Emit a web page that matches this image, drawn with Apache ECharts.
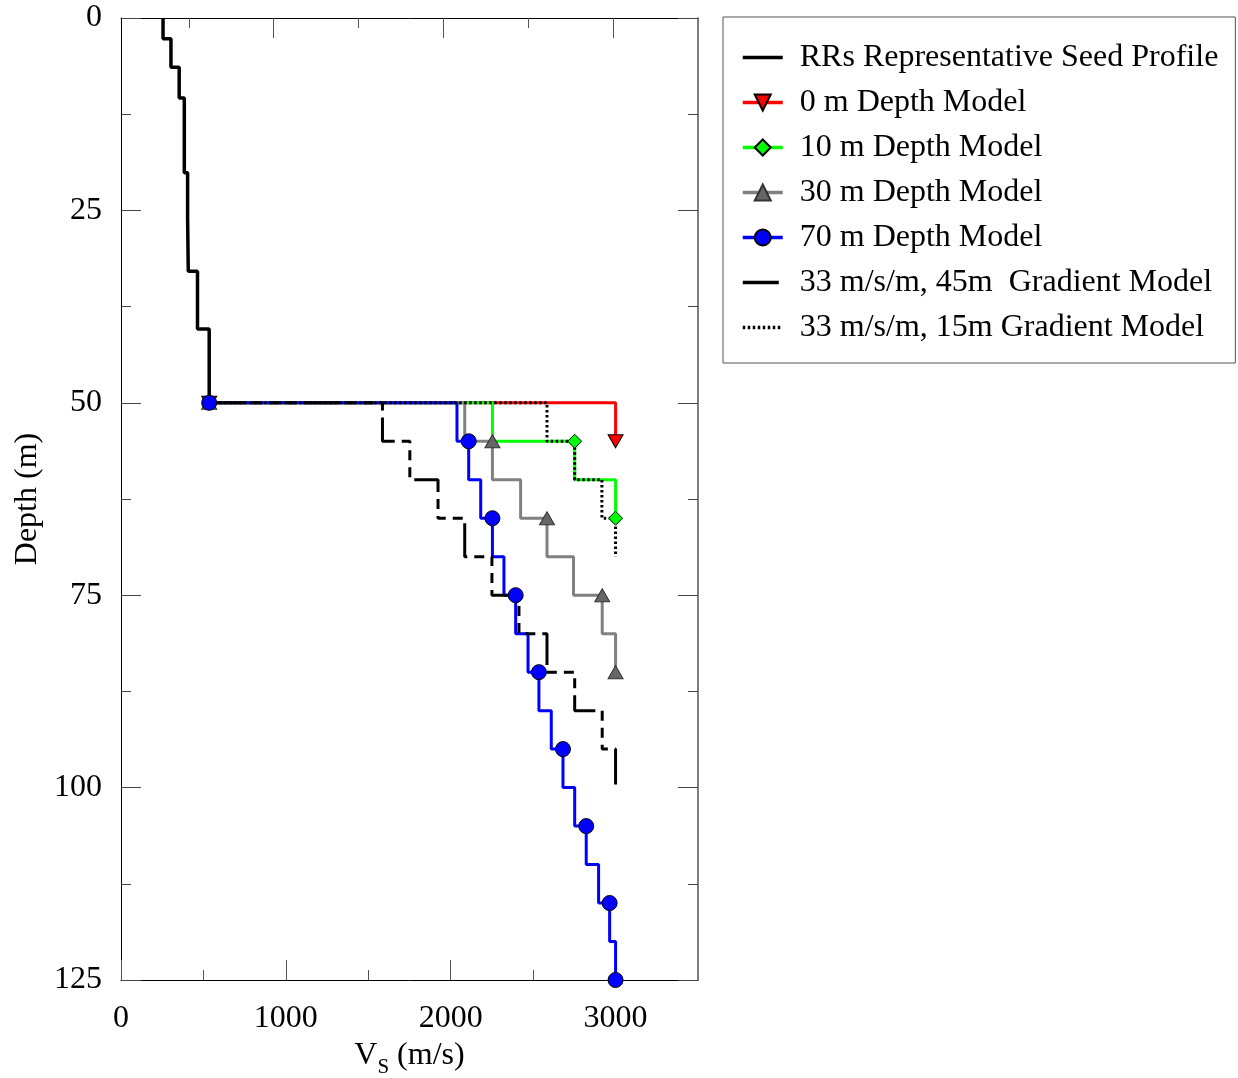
<!DOCTYPE html>
<html>
<head>
<meta charset="utf-8">
<script src="https://cdn.jsdelivr.net/npm/echarts@6/dist/echarts.min.js"></script>
<style>
html,body{margin:0;padding:0;background:#fff;}
#chart{width:1238px;height:1078px;}
</style>
</head>
<body>
<div id="chart"></div>
<script>
// ---------------- data ----------------
const seriesNames = [
  'RRs Representative Seed Profile',
  '0 m Depth Model',
  '10 m Depth Model',
  '30 m Depth Model',
  '70 m Depth Model',
  '33 m/s/m, 45m  Gradient Model',
  '33 m/s/m, 15m Gradient Model'
];

// seed profile: layer boundary depths (m) and Vs (m/s) of each layer
const seedDepths = [0, 2.7, 6.4, 10.4, 20.1, 26.0, 32.9, 40.4, 50];
const seedVs = [255, 303, 353, 384, 404, 408, 464, 535];

// 0 m depth model
const depths0m = [50, 55];
const vs0m = [3000];
const markers0m = [50, 55];

// 10 m depth model
const depths10m = [50, 55, 60, 65];
const vs10m = [2253, 2752, 3000];
const markers10m = [50, 55, 65];

// 30 m depth model
const depths30m = [50, 55, 60, 65, 70, 75, 80, 85];
const vs30m = [2085, 2253, 2424, 2584, 2745, 2919, 3000];
const markers30m = [50, 55, 65, 75, 85];

// 70 m depth model
const depths70m = [50, 55, 60, 65, 70, 75, 80, 85, 90, 95, 100, 105, 110, 115, 120, 125];
const vs70m = [2038, 2109, 2182, 2253, 2323, 2394, 2469, 2535, 2610, 2681, 2752, 2822, 2897, 2964, 3000];
const markers70m = [50, 55, 65, 75, 85, 95, 105, 115, 125];

// 33 m/s/m, 45 m gradient model
const depthsG45 = [50, 55, 60, 65, 70, 75, 80, 85, 90, 95, 100];
const vsG45 = [1586, 1752, 1923, 2085, 2250, 2414, 2584, 2752, 2919, 3000];

// 33 m/s/m, 15 m gradient model
const depthsG15 = [50, 55, 60, 65, 70];
const vsG15 = [2584, 2752, 2917, 3000];

// axis ticks
const xMajorTicks = [0, 1000, 2000, 3000];
const xMinorTicks = [500, 1500, 2500];
const topMajorTicks = [500, 1500, 2500];
const topMinorTicks = [0, 1000, 2000];

// ---------------- build step paths ----------------
function seedPath() {
  const pts = [];
  for (let i = 0; i < seedVs.length; i++) {
    pts.push([seedVs[i], seedDepths[i]]);
    pts.push([seedVs[i], seedDepths[i + 1]]);
  }
  return pts;
}
function modelPath(depths, vs, markers) {
  const mk = (v, d, on) => on ? { value: [v, d] } : { value: [v, d], symbol: 'none' };
  const startV = seedVs[seedVs.length - 1];
  const pts = [mk(startV, depths[0], markers.indexOf(depths[0]) >= 0)];
  for (let i = 0; i < vs.length; i++) {
    pts.push(mk(vs[i], depths[i], i > 0 && markers.indexOf(depths[i]) >= 0));
    pts.push(mk(vs[i], depths[i + 1], i === vs.length - 1 && markers.indexOf(depths[i + 1]) >= 0));
  }
  return pts;
}

const FONT = 'Liberation Serif';
const FS = 32;

const chart = echarts.init(document.getElementById('chart'));

const grid = { left: 121, top: 18, width: 577, height: 962, outerBoundsMode: 'none', containLabel: false };
const noMarker = { opacity: 0, color: 'rgba(0,0,0,0)', borderWidth: 0 };

const option = {
  animation: false,
  backgroundColor: '#fff',
  grid: [Object.assign({}, grid), Object.assign({}, grid)],
  legend: {
    orient: 'vertical',
    left: 723,
    top: 17,
    padding: [24, 17, 19, 18],
    itemGap: 12,
    itemWidth: 40,
    itemHeight: 20,
    borderColor: '#555',
    borderWidth: 1,
    lineStyle: { width: 3.5 },
    textStyle: { fontFamily: FONT, fontSize: FS, lineHeight: 33, color: '#000', padding: [0, 0, 0, 12] },
    data: [
      { name: seriesNames[0], itemStyle: noMarker },
      { name: seriesNames[1] },
      { name: seriesNames[2] },
      { name: seriesNames[3] },
      { name: seriesNames[4] },
      { name: seriesNames[5], itemStyle: noMarker },
      { name: seriesNames[6], itemStyle: noMarker }
    ]
  },
  xAxis: [
    {
      gridIndex: 0, type: 'value', position: 'bottom', min: 0, max: 3500,
      name: '{a|V}{s|S}{a| (m/s)}',
      nameLocation: 'middle', nameGap: 55,
      nameTextStyle: {
        rich: {
          a: { fontFamily: FONT, fontSize: FS, lineHeight: 35, color: '#000', verticalAlign: 'top' },
          s: { fontFamily: FONT, fontSize: 21, lineHeight: 21, color: '#000', verticalAlign: 'top', padding: [17, 0, 0, 0] }
        }
      },
      axisLine: { show: true, onZero: false, lineStyle: { color: '#000', width: 1 } },
      axisTick: { show: true, inside: true, length: 20, customValues: xMajorTicks, lineStyle: { color: '#555' } },
      axisLabel: { show: true, customValues: xMajorTicks, margin: 23, fontFamily: FONT, fontSize: FS, color: '#000',
        formatter: v => String(v) },
      splitLine: { show: false }
    },
    {
      gridIndex: 0, type: 'value', position: 'top', min: -400, max: 3000,
      axisLine: { show: true, onZero: false, lineStyle: { color: '#000', width: 1 } },
      axisTick: { show: true, inside: true, length: 20, customValues: topMajorTicks, lineStyle: { color: '#555' } },
      axisLabel: { show: false },
      splitLine: { show: false }
    },
    {
      gridIndex: 1, type: 'value', position: 'bottom', min: 0, max: 3500,
      axisLine: { show: false, onZero: false },
      axisTick: { show: true, inside: true, length: 10, customValues: xMinorTicks, lineStyle: { color: '#555' } },
      axisLabel: { show: false },
      splitLine: { show: false }
    },
    {
      gridIndex: 1, type: 'value', position: 'top', min: -400, max: 3000,
      axisLine: { show: false, onZero: false },
      axisTick: { show: true, inside: true, length: 10, customValues: topMinorTicks, lineStyle: { color: '#555' } },
      axisLabel: { show: false },
      splitLine: { show: false }
    }
  ],
  yAxis: [
    {
      gridIndex: 0, type: 'value', position: 'left', inverse: true, min: 0, max: 125, interval: 25,
      name: 'Depth (m)', nameLocation: 'middle', nameGap: 77,
      nameTextStyle: { fontFamily: FONT, fontSize: FS, color: '#000' },
      axisLine: { show: true, onZero: false, lineStyle: { color: '#000', width: 1 } },
      axisTick: { show: true, inside: true, length: 20, lineStyle: { color: '#444' } },
      minorTick: { show: true, splitNumber: 2, length: 10, lineStyle: { color: '#444' } },
      axisLabel: { show: true, margin: 19, fontFamily: FONT, fontSize: FS, color: '#000' },
      splitLine: { show: false }, minorSplitLine: { show: false }
    },
    {
      gridIndex: 0, type: 'value', position: 'right', inverse: true, min: 0, max: 125, interval: 25,
      axisLine: { show: true, onZero: false, lineStyle: { color: '#555', width: 1.5 } },
      axisTick: { show: true, inside: true, length: 20, lineStyle: { color: '#444' } },
      minorTick: { show: true, splitNumber: 2, length: 10, lineStyle: { color: '#444' } },
      axisLabel: { show: false },
      splitLine: { show: false }, minorSplitLine: { show: false }
    },
    {
      gridIndex: 1, type: 'value', inverse: true, min: 0, max: 125, show: false,
      axisLine: { onZero: false }
    }
  ],
  series: [
    {
      name: seriesNames[0], type: 'line', xAxisIndex: 0, yAxisIndex: 0,
      data: seedPath(), symbol: 'none',
      lineStyle: { color: '#000', width: 3.5 }, itemStyle: { color: '#000' }
    },
    {
      name: seriesNames[1], type: 'line', xAxisIndex: 0, yAxisIndex: 0,
      data: modelPath(depths0m, vs0m, markers0m),
      symbol: 'triangle', symbolSize: [15, 13], symbolRotate: 180, showSymbol: true,
      lineStyle: { color: '#ff0000', width: 3 },
      itemStyle: { color: '#ff0000', borderColor: '#000', borderWidth: 1 }
    },
    {
      name: seriesNames[2], type: 'line', xAxisIndex: 0, yAxisIndex: 0,
      data: modelPath(depths10m, vs10m, markers10m),
      symbol: 'diamond', symbolSize: 14, showSymbol: true,
      lineStyle: { color: '#00ff00', width: 3 },
      itemStyle: { color: '#00ff00', borderColor: '#000', borderWidth: 1 }
    },
    {
      name: seriesNames[3], type: 'line', xAxisIndex: 0, yAxisIndex: 0,
      data: modelPath(depths30m, vs30m, markers30m),
      symbol: 'triangle', symbolSize: [15, 13], showSymbol: true,
      lineStyle: { color: '#808080', width: 3 },
      itemStyle: { color: '#666666', borderColor: '#333', borderWidth: 1 }
    },
    {
      name: seriesNames[4], type: 'line', xAxisIndex: 0, yAxisIndex: 0,
      data: modelPath(depths70m, vs70m, markers70m),
      symbol: 'circle', symbolSize: 15, showSymbol: true,
      lineStyle: { color: '#0000ff', width: 3 },
      itemStyle: { color: '#0000ff', borderColor: '#000', borderWidth: 1 }
    },
    {
      name: seriesNames[5], type: 'line', xAxisIndex: 0, yAxisIndex: 0,
      data: modelPath(depthsG45, vsG45, []),
      symbol: 'none',
      lineStyle: { color: '#000', width: 3, type: [36, 7, 10, 7, 10, 7, 10, 7] },
      itemStyle: { color: '#000' }
    },
    {
      name: seriesNames[6], type: 'line', xAxisIndex: 0, yAxisIndex: 0,
      data: modelPath(depthsG15, vsG15, []),
      symbol: 'none',
      lineStyle: { color: '#000', width: 3, type: [2.5, 2.5] },
      itemStyle: { color: '#000' }
    }
  ]
};

chart.setOption(option);
</script>
</body>
</html>
